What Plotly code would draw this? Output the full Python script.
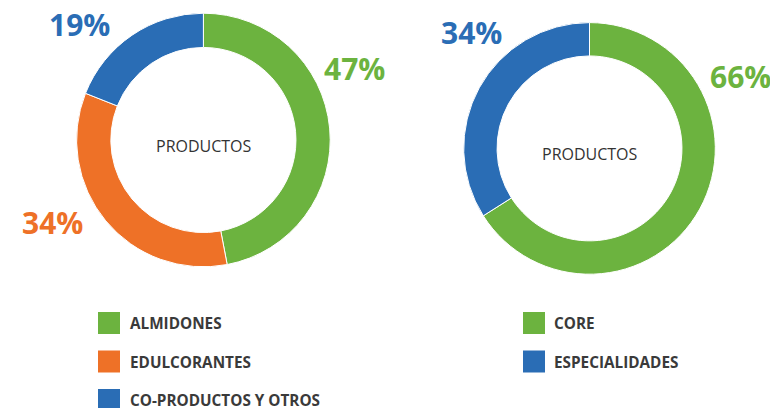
import plotly.graph_objects as go

# The page body has an 8px margin, so the figure is drawn 8px in from the window's corner.
OFF = 8
W, H = 778 - OFF, 408 - OFF

# Data
left_categories = ["ALMIDONES", "EDULCORANTES", "CO-PRODUCTOS Y OTROS"]
left_values = [47, 34, 19]
right_categories = ["CORE", "ESPECIALIDADES"]
right_values = [66, 34]
center_label = "PRODUCTOS"

GREEN = "#6CB33F"
ORANGE = "#EE7127"
BLUE = "#2A6DB5"
left_colors = [GREEN, ORANGE, BLUE]
right_colors = [GREEN, BLUE]
TEXT = "#3a3a3a"


def fx(x):
    return (x - OFF) / W


def fy(y):
    return 1 - (y - OFF) / H


def px_domain(cx, cy, r):
    return dict(x=[fx(cx - r), fx(cx + r)], y=[fy(cy + r), fy(cy - r)])


fig = go.Figure()
fig.add_trace(go.Pie(
    labels=left_categories, values=left_values, sort=False, direction="clockwise",
    rotation=0, hole=0.73, textinfo="none", hoverinfo="label+percent",
    marker=dict(colors=left_colors, line=dict(color="white", width=1)),
    domain=px_domain(203.4, 140.0, 126.8), showlegend=False))
fig.add_trace(go.Pie(
    labels=right_categories, values=right_values, sort=False, direction="clockwise",
    rotation=0, hole=0.735, textinfo="none", hoverinfo="label+percent",
    marker=dict(colors=right_colors, line=dict(color="white", width=1)),
    domain=px_domain(589.5, 148.4, 125.8), showlegend=False))

annotations = []
shapes = []


def ann(x, y, text, size, color, bold=False, xanchor="center"):
    annotations.append(dict(
        x=fx(x), y=fy(y), xref="paper", yref="paper", showarrow=False,
        text=f"<b>{text}</b>" if bold else text, xanchor=xanchor, yanchor="middle",
        borderpad=0, font=dict(family="Open Sans", size=size, color=color)))


# percentage labels
left_label_pos = [(354.5, 68.5), (52, 222.5), (79.5, 24.5)]
right_label_pos = [(740.5, 76.5), (471.5, 32.5)]
for v, c, (x, y) in zip(left_values, left_colors, left_label_pos):
    ann(x, y, f"{v}%", 30, c, bold=True)
for v, c, (x, y) in zip(right_values, right_colors, right_label_pos):
    ann(x, y, f"{v}%", 30, c, bold=True)

# centre labels
ann(204, 145.5, center_label, 16, "#333333")
ann(589.5, 154, center_label, 16, "#333333")


# custom legends
def legend(cats, colors, sx, tx, y0, step):
    for i, (cat, col) in enumerate(zip(cats, colors)):
        yc = y0 + i * step
        shapes.append(dict(type="rect", xref="paper", yref="paper",
                           x0=fx(sx), x1=fx(sx + 22),
                           y0=fy(yc + 11), y1=fy(yc - 11),
                           fillcolor=col, line=dict(width=0)))
        ann(tx, yc, cat, 15.3, TEXT, bold=True, xanchor="left")


legend(left_categories, left_colors, 98, 129, 323, 38.5)
legend(right_categories, right_colors, 523, 553, 323, 38.5)

fig.update_layout(
    width=W, height=H, margin=dict(l=0, r=0, t=0, b=0),
    paper_bgcolor="white", plot_bgcolor="white",
    annotations=annotations, shapes=shapes,
    font=dict(family="Open Sans"))

fig.write_html("out.html")
